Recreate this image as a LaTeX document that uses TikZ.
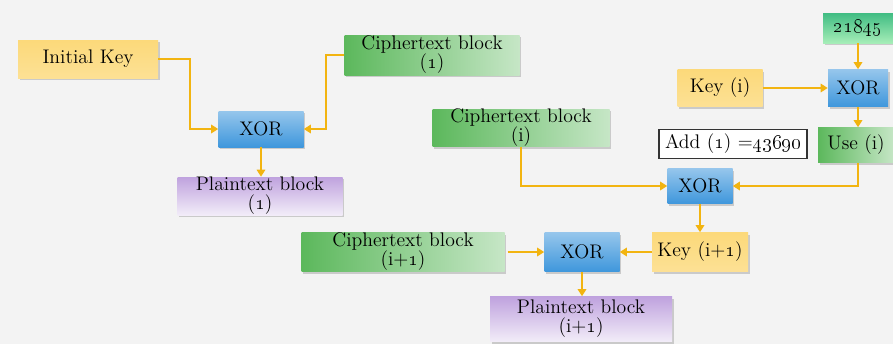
\documentclass[tikz,border=0pt]{standalone}
\usepackage{tikz}
\usetikzlibrary{arrows.meta,positioning,shadows}
\definecolor{flowc}{HTML}{F2B410}
\definecolor{keyc}{HTML}{FCD97A}
\definecolor{bgc}{HTML}{F3F3F3}
\definecolor{plainc}{HTML}{BFA2DE}
\definecolor{cipherc}{HTML}{5CB85C}
\definecolor{xorc}{HTML}{3F97DC}
\newcommand{\os}[1]{\oldstylenums{#1}}

\begin{document}
\begin{tikzpicture}[>={Triangle[length=5pt,width=6pt]},
    every node/.style={align=center,font=\fontsize{14}{13.5}\selectfont,text=black,inner sep=0pt},
    box/.style={drop shadow={opacity=0.35,shadow xshift=1.2pt,shadow yshift=-1.5pt}},
    keybox/.style={box,top color=keyc,bottom color=keyc!80!white},
    cipherbox/.style={box,left color=cipherc,right color=cipherc!35!white},
    xorbox/.style={box,top color=xorc!55!white,bottom color=xorc},
    plainbox/.style={box,top color=plainc,bottom color=plainc!20!white},
    flow/.style={->,flowc,line width=1.7pt}]
    \fill[bgc] (0,0) rectangle (22.325,-8.6);
    \useasboundingbox (0,0) rectangle (22.325,-8.6);
    % left part
    \node[keybox,minimum width=3.5cm,minimum height=0.95cm] (ikey) at (2.2,-1.475) {Initial Key};
    \node[cipherbox,minimum width=4.375cm,minimum height=1.0cm] (cone) at (10.8,-1.375) {Ciphertext block\\(\os{1})};
    \node[xorbox,minimum width=2.125cm,minimum height=0.9cm] (xora) at (6.525,-3.225) {XOR};
    \node[plainbox,minimum width=4.125cm,minimum height=0.95cm] (pone) at (6.5,-4.9) {Plaintext block\\(\os{1})};
    % key update
    \node[box,top color=teal!70!green!75!white,bottom color=teal!40!green!35!white,minimum width=1.75cm,minimum height=0.75cm] (num) at (21.45,-0.7) {\os{21845}};
    \node[keybox,minimum width=2.125cm,minimum height=0.925cm] (keyi) at (18.0,-2.2) {Key (i)};
    \node[xorbox,minimum width=1.5cm,minimum height=0.925cm] (xorb) at (21.45,-2.2) {XOR};
    \node[cipherbox,minimum width=1.9cm,minimum height=0.875cm] (usei) at (21.4,-3.625) {Use (i)};
    \node[draw=black!80,fill=white,line width=0.8pt,minimum width=3.7cm,minimum height=0.725cm] (add) at (18.325,-3.6) {Add (\os{1}) =\os{43690}};
    \node[cipherbox,minimum width=4.425cm,minimum height=0.925cm] (ci) at (13.025,-3.2) {Ciphertext block\\(i)};
    \node[xorbox,minimum width=1.625cm,minimum height=0.875cm] (xorc) at (17.5,-4.65) {XOR};
    % next block
    \node[cipherbox,minimum width=5.075cm,minimum height=0.975cm] (cnext) at (10.075,-6.3) {Ciphertext block\\(i+\os{1})};
    \node[xorbox,minimum width=1.875cm,minimum height=0.975cm] (xord) at (14.55,-6.3) {XOR};
    \node[keybox,minimum width=2.4cm,minimum height=0.975cm] (knext) at (17.5,-6.3) {Key (i+\os{1})};
    \node[plainbox,minimum width=4.55cm,minimum height=1.125cm] (pnext) at (14.525,-7.975) {Plaintext block\\(i+\os{1})};

    \draw[flow] (ikey.east) -- ++(0.8,0) |- (xora.west);
    \draw[flow] (cone.west) -- ++(-0.45,0) |- (xora.east);
    \draw[flow] (xora.south) -- (xora.south |- pone.north);
    \draw[flow] (num.south) -- (xorb.north);
    \draw[flow] (keyi.east) -- (xorb.west);
    \draw[flow] (xorb.south) -- (xorb.south |- usei.north);
    \draw[flow] (ci.south) |- (xorc.west);
    \draw[flow] (xorb.south |- usei.south) |- (xorc.east);
    \draw[flow] (xorc.south) -- (knext.north);
    \draw[flow] (knext.west) -- (xord.east);
    \draw[flow,shorten <=2pt] (cnext.east) -- (xord.west);
    \draw[flow] (xord.south) -- (xord.south |- pnext.north);
\end{tikzpicture}
\end{document}
